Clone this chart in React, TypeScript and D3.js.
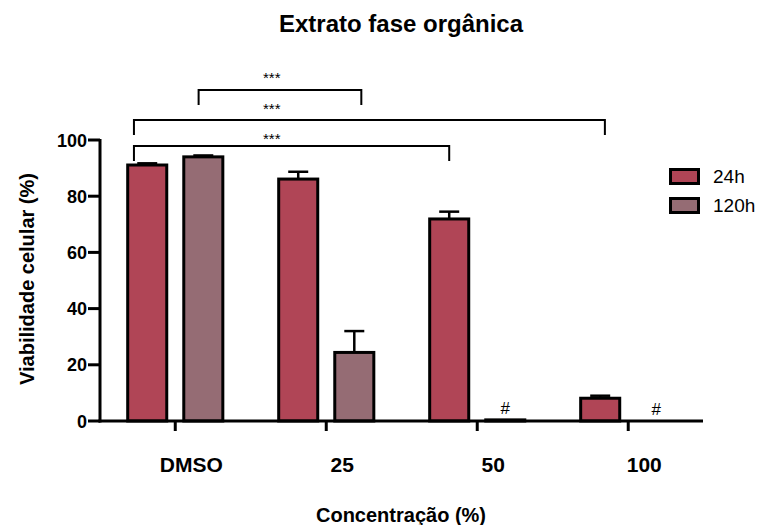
import React from "react";
import * as d3 from "d3";

// Cell viability per concentration, two exposure times
const groups = ["DMSO", "25", "50", "100"];
const seriesNames = ["24h", "120h"];
const values24h = [91.1, 86.1, 71.9, 8.1];
const values120h = [94.0, 24.4, 0.4, 0];
const errors24h = [0.6, 2.6, 2.6, 0.9];
const errors120h = [0.5, 7.6, 0, 0];
const yTicks = [0, 20, 40, 60, 80, 100];
// marks above the 120h bars whose viability dropped to ~0
const hashMarks = ["50", "100"];
// significance brackets between bars
const brackets = [
  { from: ["DMSO", "24h"], to: ["50", "24h"], label: "***", level: 0 },
  { from: ["DMSO", "24h"], to: ["100", "24h"], label: "***", level: 1 },
  { from: ["DMSO", "120h"], to: ["25", "120h"], label: "***", level: 2 },
];

const colors: Record<string, string> = { "24h": "#b04556", "120h": "#956c74" };
const FONT = "'Liberation Sans', Arial, Helvetica, sans-serif";

export default function App() {
  const W = 761;
  const H = 525;
  const axisX = 100;
  const axisEnd = 703;

  const y = d3.scaleLinear().domain([0, 100]).range([421, 140]);
  const x0 = d3.scaleBand<string>().domain(groups).range([127.7, 675.8]).paddingInner(0.37).paddingOuter(0);
  const x1 = d3.scaleBand<string>().domain(seriesNames).range([0, x0.bandwidth()]).paddingInner(0.3036).paddingOuter(0);

  const rows = groups.flatMap((g, i) => [
    { g, s: "24h", v: values24h[i], e: errors24h[i] },
    { g, s: "120h", v: values120h[i], e: errors120h[i] },
  ]);

  const barX = (g: string, s: string) => (x0(g) ?? 0) + (x1(s) ?? 0);
  const bw = x1.bandwidth();
  const tickX = (g: string) => (x0(g) ?? 0) + x0.bandwidth() / 2;

  // where each bracket leg meets its bar (fraction of the bar width)
  const legAnchor = (s: string, end: "from" | "to", level: number) => {
    const frac = end === "from" ? (s === "24h" ? 0.16 : 0.38) : level === 2 ? 0.68 : level === 1 ? 0.62 : 0.5;
    return frac;
  };
  const levelY = [y(100) + 6, y(100) - 20, y(100) - 50];
  const labelGap = [2.5, 6, 7];
  const starX = (tickX("DMSO") + tickX("25")) / 2 + 21;

  return (
    <svg width={W} height={H} style={{ position: "absolute", left: 0, top: 0, background: "#fff" }} fontFamily={FONT}>
      <text x={401} y={32} textAnchor="middle" fontSize={24} fontWeight="bold">
        Extrato fase orgânica
      </text>

      {/* bars */}
      {rows.map((r) => (
        <rect
          key={r.g + r.s}
          x={barX(r.g, r.s)}
          y={y(r.v)}
          width={bw}
          height={Math.max(0, y(0) - y(r.v))}
          fill={colors[r.s]}
          stroke="#000"
          strokeWidth={r.v > 0 ? 3 : 0}
        />
      ))}

      {/* error bars (upper only) */}
      {rows
        .filter((r) => r.e > 0)
        .map((r) => {
          const cx = barX(r.g, r.s) + bw / 2;
          return (
            <g key={"e" + r.g + r.s} stroke="#000" strokeWidth={2.5}>
              <line x1={cx} x2={cx} y1={y(r.v)} y2={y(r.v + r.e)} />
              <line x1={cx - 10} x2={cx + 10} y1={y(r.v + r.e)} y2={y(r.v + r.e)} />
            </g>
          );
        })}

      {/* # marks */}
      {hashMarks.map((g) => {
        const i = groups.indexOf(g);
        return (
          <text key={"h" + g} x={barX(g, "120h") + bw / 2} y={y(values120h[i]) - 6} textAnchor="middle" fontSize={17}>
            #
          </text>
        );
      })}

      {/* y axis */}
      <line x1={axisX} x2={axisX} y1={y(100) - 1} y2={y(0) + 1.5} stroke="#000" strokeWidth={3} />
      {yTicks.map((t) => (
        <g key={"yt" + t}>
          <line x1={axisX - 12} x2={axisX} y1={y(t)} y2={y(t)} stroke="#000" strokeWidth={3} />
          <text x={axisX - 13} y={y(t) + 6.5} textAnchor="end" fontSize={18} fontWeight="bold">
            {t}
          </text>
        </g>
      ))}

      {/* x axis */}
      <line x1={axisX - 1.5} x2={axisEnd} y1={y(0)} y2={y(0)} stroke="#000" strokeWidth={3} />
      {groups.map((g) => (
        <g key={"xt" + g}>
          <line x1={tickX(g)} x2={tickX(g)} y1={y(0)} y2={y(0) + 10} stroke="#000" strokeWidth={3} />
          <text x={tickX(g) + 16} y={472} textAnchor="middle" fontSize={21} fontWeight="bold">
            {g}
          </text>
        </g>
      ))}

      <text x={401} y={522} textAnchor="middle" fontSize={20} fontWeight="bold">
        Concentração (%)
      </text>
      <text transform={`translate(34,279) rotate(-90)`} textAnchor="middle" fontSize={20} fontWeight="bold">
        Viabilidade celular (%)
      </text>

      {/* significance brackets */}
      {brackets.map((b, i) => {
        const xa = barX(b.from[0], b.from[1]) + bw * legAnchor(b.from[1], "from", b.level);
        const xb = barX(b.to[0], b.to[1]) + bw * legAnchor(b.to[1], "to", b.level);
        const ly = levelY[b.level];
        return (
          <g key={"b" + i}>
            <path d={`M${xa},${ly + 15}V${ly}H${xb}V${ly + 15}`} fill="none" stroke="#000" strokeWidth={2} />
            <text x={starX} y={ly - labelGap[b.level]} textAnchor="middle" fontSize={15}>
              {b.label}
            </text>
          </g>
        );
      })}

      {/* legend */}
      {seriesNames.map((s, i) => (
        <g key={"lg" + s} transform={`translate(669,${168 + i * 29})`}>
          <rect x={1.5} y={1.5} width={28} height={14} fill={colors[s]} stroke="#000" strokeWidth={3} />
          <text x={44} y={15} fontSize={19}>
            {s}
          </text>
        </g>
      ))}
    </svg>
  );
}
